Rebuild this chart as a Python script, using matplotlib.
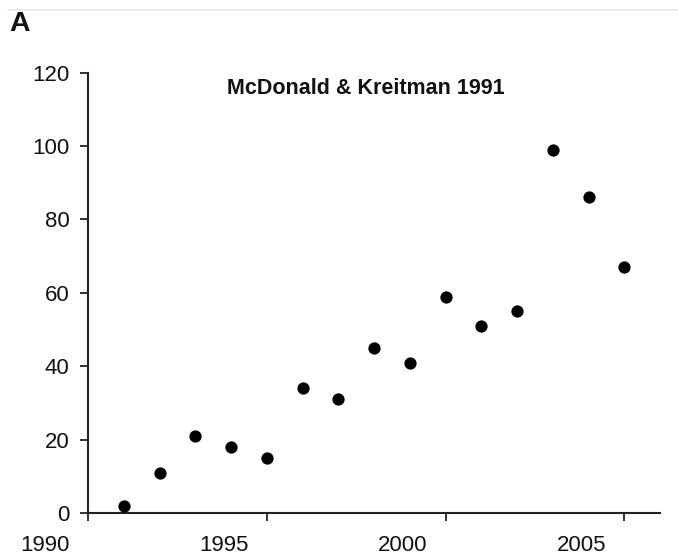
import matplotlib
matplotlib.use("Agg")
import matplotlib.pyplot as plt
from matplotlib.transforms import ScaledTranslation

plt.rcParams["font.family"] = ["Liberation Sans", "DejaVu Sans"]

# citations per year
years = [1991, 1992, 1993, 1994, 1995, 1996, 1997, 1998,
         1999, 2000, 2001, 2002, 2003, 2004, 2005]
counts = [2, 11, 21, 18, 15, 34, 31, 45, 41, 59, 51, 55, 99, 86, 67]

xticks = [1990, 1995, 2000, 2005]
yticks = [0, 20, 40, 60, 80, 100, 120]

fig = plt.figure(figsize=(6.78, 5.57), dpi=100)
ax = fig.add_axes([0.1298, 0.0785, 0.8437, 0.7912])

ax.scatter(years, counts, s=78, color="black", zorder=3, linewidths=0)

ax.set_xlim(1990, 2006)
ax.set_ylim(0, 120)
ax.set_xticks(xticks)
ax.set_yticks(yticks)
ax.set_xticklabels([str(y) for y in xticks])

for side in ["top", "right"]:
    ax.spines[side].set_visible(False)
for side in ["left", "bottom"]:
    ax.spines[side].set_linewidth(1.5)
    ax.spines[side].set_color("#222222")

ax.tick_params(axis="both", direction="out", length=5.5, width=1.3,
               color="#222222", labelsize=16, labelcolor="#111111")
ax.tick_params(axis="y", pad=8)
ax.tick_params(axis="x", pad=10)

# year labels sit a little to the left of their ticks
shift = ScaledTranslation(-0.43, 0, fig.dpi_scale_trans)
for lab in ax.get_xticklabels():
    lab.set_transform(lab.get_transform() + shift)

ax.text(0.486, 0.988, "McDonald & Kreitman 1991", transform=ax.transAxes,
        ha="center", va="top", fontsize=15.5, fontweight="bold", color="#111111")

fig.text(0.013, 0.934, "A", fontsize=20.5, fontweight="bold", ha="left",
         va="bottom", color="#111111")

# faint rule along the top edge
fig.add_artist(plt.Line2D([0.012, 1.0], [0.982, 0.982], color="#e6eaea",
                          linewidth=1.2, transform=fig.transFigure))

fig.savefig("out.png", dpi=100)
